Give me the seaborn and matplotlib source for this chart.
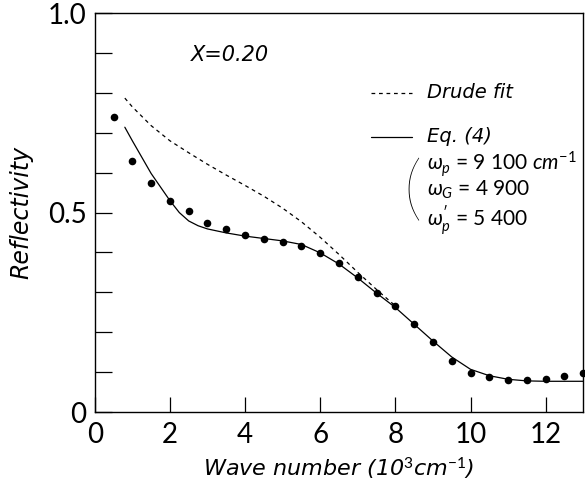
#Reflectivity spectrum for X=0.20 with Drude fit and Eq.(4) fit
#Recreated figure: data points, two model curves, inline legend.

#Import the required libraries
import matplotlib
matplotlib.use("Agg")
import matplotlib.pyplot as plt
import matplotlib.ticker as mtick
import pandas as pd
import seaborn as sns


# Measured reflectivity (dots)
wave_meas = [0.5, 1.0, 1.5, 2.0, 2.5, 3.0, 3.5, 4.0, 4.5, 5.0, 5.5, 6.0, 6.5,
             7.0, 7.5, 8.0, 8.5, 9.0, 9.5, 10.0, 10.5, 11.0, 11.5, 12.0, 12.5, 13.0]
refl_meas = [0.740, 0.630, 0.574, 0.529, 0.504, 0.474, 0.459, 0.444, 0.434, 0.425,
             0.417, 0.398, 0.373, 0.338, 0.298, 0.266, 0.220, 0.175, 0.128, 0.097,
             0.088, 0.080, 0.080, 0.083, 0.090, 0.097]

# Eq. (4) fit (solid)
wave_eq4 = [0.8, 1.0, 1.5, 2.0, 2.25, 2.5, 2.75, 3.0, 3.5, 4.0, 4.5, 5.0, 5.5, 6.0, 6.5,
            7.0, 7.5, 8.0, 8.5, 9.0, 9.5, 10.0, 10.5, 11.0, 11.5, 12.0, 12.5, 13.0]
refl_eq4 = [0.714, 0.680, 0.598, 0.530, 0.500, 0.479, 0.467, 0.459, 0.449, 0.441, 0.435, 0.429,
            0.420, 0.399, 0.371, 0.336, 0.298, 0.262, 0.220, 0.178, 0.138, 0.107,
            0.091, 0.082, 0.078, 0.077, 0.077, 0.077]

# Drude fit (dashed)
wave_drude = [0.8, 1.0, 1.5, 2.0, 2.5, 3.0, 3.5, 4.0, 4.5, 5.0, 5.5, 6.0, 6.5,
              7.0, 7.5, 8.0]
refl_drude = [0.787, 0.765, 0.718, 0.680, 0.650, 0.621, 0.594, 0.568, 0.541, 0.511,
              0.477, 0.438, 0.395, 0.350, 0.307, 0.266]

x_ticks = [0, 2, 4, 6, 8, 10, 12]
y_labels = {0.0: "0", 0.5: "0.5", 1.0: "1.0"}

df_meas = pd.DataFrame({"wave": wave_meas, "refl": refl_meas})
df_eq4 = pd.DataFrame({"wave": wave_eq4, "refl": refl_eq4})
df_drude = pd.DataFrame({"wave": wave_drude, "refl": refl_drude})

# Style
sns.set_style("ticks")
plt.rcParams['font.family'] = ['Lato', 'DejaVu Sans']
plt.rcParams['mathtext.fontset'] = 'custom'
plt.rcParams['mathtext.rm'] = 'Lato'
plt.rcParams['mathtext.it'] = 'Lato:italic'
for key in ['text.color', 'axes.labelcolor', 'xtick.color', 'ytick.color', 'axes.edgecolor']:
    plt.rcParams[key] = 'black'
ital = dict(family=['DejaVu Sans'], style="oblique")

fig = plt.figure(figsize=(5.85, 4.87), dpi=100)
ax = fig.add_axes([0.162, 0.154, 0.835, 0.819])

# Curves and points
sns.lineplot(data=df_drude, x="wave", y="refl", ax=ax, color="black",
             linewidth=0.9, linestyle=(0, (3, 3)), sort=False)
sns.lineplot(data=df_eq4, x="wave", y="refl", ax=ax, color="black",
             linewidth=0.9, sort=False)
sns.scatterplot(data=df_meas, x="wave", y="refl", ax=ax, color="black",
                s=30, edgecolor="black", linewidth=0, zorder=3, clip_on=False)

# Axes
ax.set_xlim(0, 13)
ax.set_ylim(0, 1.0)
ax.set_xticks(x_ticks)
ax.set_xticklabels([str(t) for t in x_ticks])
ax.set_yticks(list(y_labels.keys()))
ax.set_yticklabels(list(y_labels.values()))
ax.yaxis.set_minor_locator(mtick.MultipleLocator(0.1))
ax.tick_params(axis="both", which="both", direction="in", width=0.9, colors="black")
ax.tick_params(axis="x", which="major", length=11, labelsize=20, pad=7)
ax.tick_params(axis="y", which="both", length=12, labelsize=20, pad=6)
for side in ["left", "right", "top", "bottom"]:
    ax.spines[side].set_linewidth(1.0)
    ax.spines[side].set_visible(True)

ax.set_xlabel("Wave number (10$^3$cm$^{-1}$)", fontsize=16, labelpad=6, **ital)
ax.set_ylabel("Reflectivity", fontsize=17, labelpad=10, **ital)

# Annotations
ax.text(2.55, 0.895, "X=0.20", fontsize=15, va="center", **ital)

# Inline legend
ax.plot([7.34, 8.43], [0.80, 0.80], color="black", linewidth=0.9, linestyle=(0, (3, 3)))
ax.text(8.83, 0.80, "Drude fit", fontsize=14, va="center", **ital)
ax.plot([7.34, 8.43], [0.69, 0.69], color="black", linewidth=0.9)
ax.text(8.83, 0.69, "Eq. (4)", fontsize=14, va="center", **ital)
ax.text(8.2, 0.55, "(", fontsize=52, fontweight="light", va="center", ha="left")
ax.text(8.83, 0.622, r"$\omega_{\mathit{p}}$ = 9 100 $\mathit{cm}^{-1}$", fontsize=15, va="center")
ax.text(8.83, 0.556, r"$\omega_{\mathit{G}}$ = 4 900", fontsize=15, va="center")
ax.text(8.83, 0.48, r"$\omega_{\mathit{p}}^{\prime}$ = 5 400", fontsize=15, va="center")

plt.savefig("out.png", dpi=100)
